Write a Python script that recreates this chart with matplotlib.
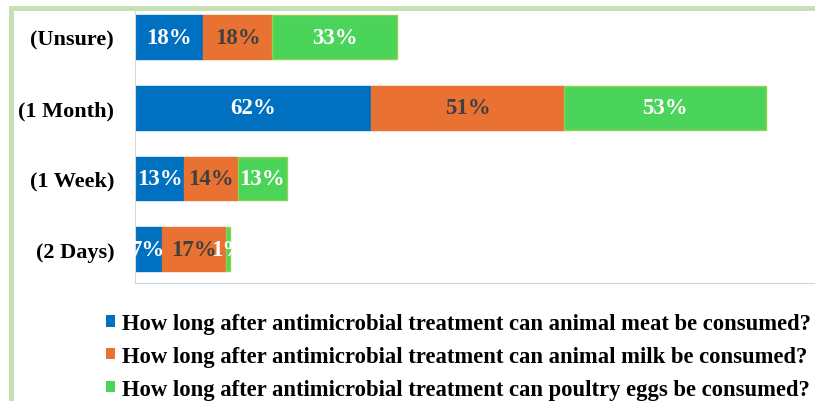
import numpy as np
import matplotlib.pyplot as plt
from matplotlib.patches import Patch, Rectangle

plt.rcParams['font.family'] = ['Liberation Serif', 'DejaVu Serif']
plt.rcParams['font.weight'] = 'bold'

categories = ['(2 Days)', '(1 Week)', '(1 Month)', '(Unsure)']
meat = [7, 13, 62, 18]
milk = [17, 14, 51, 18]
eggs = [1, 13, 53, 33]
series_labels = [
    'How long after antimicrobial treatment can animal meat be consumed?',
    'How long after antimicrobial treatment can animal milk be consumed?',
    'How long after antimicrobial treatment can poultry eggs be consumed?',
]

colors = ['#0070C0', '#E97132', '#4AD55A']
edges = ['#0070C0', '#E97132', '#92D050']
text_colors = ['white', '#404040', 'white']

W, H = 815, 402
fig = plt.figure(figsize=(W / 100, H / 100), dpi=100)
ax = fig.add_axes([135 / W, 1 - 284 / H, 680 / W, 272 / H])

y = np.arange(len(categories))
left = np.zeros(len(categories))
for vals, c, ec, tc in zip([meat, milk, eggs], colors, edges, text_colors):
    vals = np.array(vals)
    bars = ax.barh(y, vals, left=left, height=0.62, color=c, edgecolor=ec, linewidth=1)
    for b, v in zip(bars, vals):
        ax.text(b.get_x() + b.get_width() / 2, b.get_y() + b.get_height() / 2, f'{v}%',
                ha='center', va='center', color=tc, fontsize=16.5, fontweight='bold',
                clip_on=True)
    left += vals

ax.set_xlim(0, 680 / 3.8)
ax.set_ylim(-0.48, 3.37)
ax.set_yticks(y)
ax.set_yticklabels(categories, fontsize=16, fontweight='bold')
ax.tick_params(axis='y', length=0, pad=15)
ax.set_xticks([])
for s in ['top', 'right']:
    ax.spines[s].set_visible(False)
ax.spines['left'].set_color('#D9D9D9')
ax.spines['bottom'].set_color('#C9D6E3')

handles = [Patch(facecolor=c, edgecolor='none') for c in colors]
fig.legend(handles, series_labels, loc='upper left', bbox_to_anchor=(106 / W, 1 - 314 / H),
           frameon=False, fontsize=16.3, handlelength=0.4, handleheight=0.4,
           handletextpad=0.3, labelspacing=0.52, borderpad=0, borderaxespad=0)

# light green frame around the chart
fig.patches.append(Rectangle((10.5 / W, -0.2), 1.2, 1 - 8.5 / H + 0.2, transform=fig.transFigure,
                             fill=False, edgecolor='#C5E0B4', linewidth=3.6))

fig.savefig('out.png', dpi=100)
